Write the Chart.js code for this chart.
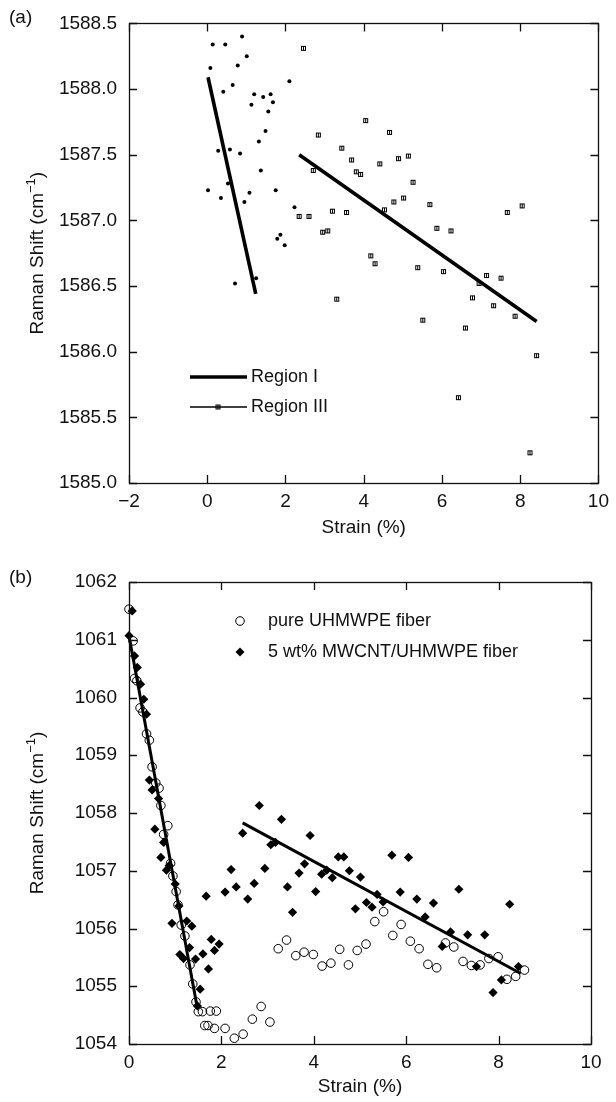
<!DOCTYPE html>
<html><head><meta charset="utf-8">
<script src="https://cdn.jsdelivr.net/npm/chart.js@4.4.1/dist/chart.umd.min.js"></script>
<style>
html,body{margin:0;padding:0;background:#fff;}
#wrap{position:relative;width:616px;height:1102px;background:#fff;}
canvas{position:absolute;left:0;}
</style>
</head><body>
<div id="wrap">
<canvas id="ca" width="616" height="545" style="top:0;width:616px;height:545px"></canvas>
<canvas id="cb" width="616" height="557" style="top:545px;width:616px;height:557px"></canvas>
</div>
<script>
// ---------- Panel (a) data ----------
const xTicksA = [-2, 0, 2, 4, 6, 8, 10];
const yTicksA = [1585.0, 1585.5, 1586.0, 1586.5, 1587.0, 1587.5, 1588.0, 1588.5];
const regionI_strain = [0.89,0.14,0.46,1.01,0.08,0.78,0.65,0.41,1.20,1.43,1.62,1.13,1.68,1.56,1.49,1.32,0.28,0.58,0.84,1.37,0.02,0.53,1.08,1.75,0.35,0.95,1.79,1.25,0.71,2.23,1.87,1.98,2.10];
const regionI_shift  = [1588.40,1588.34,1588.34,1588.25,1588.16,1588.18,1588.03,1587.98,1587.96,1587.94,1587.96,1587.88,1587.90,1587.83,1587.68,1587.60,1587.53,1587.54,1587.51,1587.38,1587.23,1587.28,1587.21,1587.23,1587.17,1587.14,1586.86,1586.56,1586.52,1587.10,1586.89,1586.81,1588.06];
const regionIII_strain = [4.05,2.84,4.66,3.44,3.69,4.89,5.14,4.41,2.71,3.81,3.92,5.26,4.77,5.02,5.69,4.53,3.20,3.56,2.35,2.60,2.95,3.08,5.87,6.23,4.18,4.29,5.38,6.04,3.31,6.78,7.14,7.51,6.95,7.32,7.87,5.51,6.60,8.42,6.42,8.25,2.46,7.67,8.05];
const regionIII_shift  = [1587.76,1587.65,1587.67,1587.55,1587.46,1587.47,1587.49,1587.43,1587.38,1587.37,1587.35,1587.29,1587.14,1587.17,1587.12,1587.08,1587.07,1587.06,1587.03,1587.03,1586.91,1586.92,1586.94,1586.92,1586.73,1586.67,1586.64,1586.61,1586.40,1586.41,1586.58,1586.56,1586.52,1586.35,1586.27,1586.24,1586.18,1585.97,1585.65,1585.23,1588.31,1587.06,1587.11];
const fitI_strain = [0.02, 1.24];
const fitI_shift  = [1588.09, 1586.44];
const fitIII_strain = [2.35, 8.42];
const fitIII_shift  = [1587.50, 1586.23];

// ---------- Panel (b) data ----------
const xTicksB = [0, 2, 4, 6, 8, 10];
const yTicksB = [1054, 1055, 1056, 1057, 1058, 1059, 1060, 1061, 1062];
const pure_strain = [0,0.09,0.12,0.17,0.24,0.30,0.38,0.44,0.50,0.58,0.65,0.69,0.84,0.75,0.90,0.95,1.02,1.06,1.13,1.21,1.32,1.38,1.45,1.50,1.59,1.76,1.89,1.64,1.71,1.85,2.08,2.28,2.47,2.67,2.86,3.05,3.23,3.41,3.61,3.79,3.99,4.18,4.37,4.56,4.75,4.94,5.13,5.32,5.51,5.71,5.89,6.09,6.28,6.47,6.66,6.85,7.03,7.23,7.41,7.60,7.79,7.99,8.18,8.37,8.56];
const pure_shift  = [1061.53,1060.98,1060.33,1060.29,1059.82,1059.75,1059.37,1059.26,1058.80,1058.52,1058.43,1058.13,1057.78,1057.63,1057.13,1056.91,1056.64,1056.41,1056.06,1055.87,1055.37,1055.04,1054.73,1054.56,1054.56,1054.57,1054.57,1054.32,1054.32,1054.27,1054.27,1054.10,1054.17,1054.43,1054.65,1054.38,1055.65,1055.80,1055.53,1055.59,1055.55,1055.35,1055.40,1055.64,1055.37,1055.62,1055.73,1056.12,1056.29,1055.88,1056.07,1055.78,1055.65,1055.38,1055.32,1055.75,1055.68,1055.43,1055.36,1055.37,1055.48,1055.51,1055.12,1055.17,1055.28];
const cnt_strain = [0.07,0,0.12,0.18,0.25,0.32,0.38,0.44,0.50,0.64,0.56,0.75,0.69,0.87,0.81,1.00,1.08,0.93,1.25,1.36,1.31,1.10,1.18,1.44,1.54,1.48,
  2.82,2.46,3.17,3.07,2.21,2.94,2.32,2.71,2.08,1.67,2.57,1.78,1.95,1.85,1.60,1.72,
  3.30,3.92,3.43,3.54,3.68,3.80,4.04,4.17,4.28,4.40,4.53,4.65,4.77,5.01,4.90,5.14,5.26,5.37,5.50,5.69,5.87,6.05,6.23,6.41,6.59,6.78,6.96,7.14,7.33,7.52,7.70,7.88,8.06,8.24,8.43];
const cnt_shift  = [1061.50,1061.07,1060.72,1060.52,1060.23,1059.97,1059.71,1058.57,1058.40,1058.25,1057.72,1057.49,1057.23,1057.09,1057.01,1056.77,1056.39,1056.09,1056.13,1056.04,1055.67,1055.55,1055.48,1055.47,1054.95,1054.66,
  1058.13,1057.65,1057.49,1057.45,1057.02,1057.04,1056.72,1056.78,1056.63,1056.56,1056.51,1055.81,1055.73,1055.62,1055.56,1055.30,
  1057.89,1057.61,1056.72,1056.28,1056.96,1057.12,1056.64,1056.94,1057.01,1056.88,1057.24,1057.24,1057.00,1056.89,1056.34,1056.45,1056.37,1056.59,1056.46,1057.27,1056.63,1057.23,1056.51,1056.20,1056.44,1055.69,1055.94,1056.68,1055.89,1055.34,1055.89,1054.89,1055.11,1056.42,1055.34];
const fitB1_strain = [0, 1.48];
const fitB1_shift  = [1061.07, 1054.62];
const fitB2_strain = [2.46, 8.48];
const fitB2_shift  = [1057.83, 1055.22];

// ---------- helpers ----------
const FONT = "'Liberation Sans', Arial, Helvetica, sans-serif";
const INK = '#111';
const pts = (xs, ys) => xs.map((x, i) => ({x: x, y: ys[i]}));
const fmtMinus = v => (v < 0 ? '\u2212' + Math.abs(v) : String(v));

// small boxed square marker for Region III
const sq = document.createElement('canvas');
sq.width = 7; sq.height = 7;
(function(){ const c = sq.getContext('2d'); c.strokeStyle = '#000'; c.lineWidth = 1;
  c.strokeRect(1.5, 1.5, 4, 4); c.fillStyle = '#000'; c.fillRect(3, 2, 1, 3); })();

const framePlugin = {
  id: 'framePlugin',
  afterDraw(chart, args, opts) {
    const ctx = chart.ctx;
    const {left, right, top, bottom} = chart.chartArea;
    const xs = chart.scales.x, ys = chart.scales.y;
    ctx.save();
    ctx.strokeStyle = INK; ctx.lineWidth = 1.3;
    ctx.strokeRect(Math.round(left) + 0.5, Math.round(top) + 0.5, Math.round(right - left), Math.round(bottom - top));
    ctx.beginPath();
    const L = 8;
    xs.ticks.forEach(t => { const p = Math.round(xs.getPixelForValue(t.value)) + 0.5;
      ctx.moveTo(p, bottom); ctx.lineTo(p, bottom - L); ctx.moveTo(p, top); ctx.lineTo(p, top + L); });
    ys.ticks.forEach(t => { const p = Math.round(ys.getPixelForValue(t.value)) + 0.5;
      ctx.moveTo(left, p); ctx.lineTo(left + L, p); ctx.moveTo(right, p); ctx.lineTo(right - L, p); });
    ctx.stroke();

    // panel label
    ctx.fillStyle = INK; ctx.textBaseline = 'middle'; ctx.textAlign = 'left';
    ctx.font = '19px ' + FONT;
    ctx.fillText(opts.panel, opts.panelX, opts.panelY);

    // x title
    ctx.textAlign = 'center';
    ctx.fillText('Strain (%)', (left + right) / 2, opts.xTitleY);

    // y title with superscript
    ctx.save();
    ctx.translate(opts.yTitleX, (top + bottom) / 2);
    ctx.rotate(-Math.PI / 2);
    ctx.textAlign = 'left';
    const main = 'Raman Shift (cm', sup = '\u22121', close = ')';
    ctx.font = '19px ' + FONT; const w1 = ctx.measureText(main).width, w3 = ctx.measureText(close).width;
    ctx.font = '13px ' + FONT; const w2 = ctx.measureText(sup).width;
    let x0 = -(w1 + w2 + w3) / 2;
    ctx.font = '19px ' + FONT; ctx.fillText(main, x0, 0);
    ctx.font = '13px ' + FONT; ctx.fillText(sup, x0 + w1, -7);
    ctx.font = '19px ' + FONT; ctx.fillText(close, x0 + w1 + w2, 0);
    ctx.restore();

    // legends
    ctx.font = '18px ' + FONT; ctx.textAlign = 'left'; ctx.textBaseline = 'middle';
    if (opts.legend === 'a') {
      ctx.strokeStyle = '#000';
      ctx.lineWidth = 3.5; ctx.beginPath(); ctx.moveTo(190, 377); ctx.lineTo(247, 377); ctx.stroke();
      ctx.fillText('Region I', 251, 377);
      ctx.lineWidth = 1.5; ctx.beginPath(); ctx.moveTo(190, 407); ctx.lineTo(247, 407); ctx.stroke();
      ctx.drawImage(sq, 218 - 3.5, 407 - 3.5);
      ctx.fillText('Region III', 251, 407);
    } else {
      ctx.strokeStyle = '#000'; ctx.lineWidth = 1;
      ctx.beginPath(); ctx.arc(240, 76, 4.3, 0, Math.PI * 2); ctx.stroke();
      ctx.fillText('pure UHMWPE fiber', 268, 76);
      ctx.fillStyle = '#000';
      ctx.beginPath(); ctx.moveTo(235.5, 107); ctx.lineTo(240, 102.5); ctx.lineTo(244.5, 107); ctx.lineTo(240, 111.5); ctx.closePath(); ctx.fill();
      ctx.fillStyle = INK;
      ctx.fillText('5 wt% MWCNT/UHMWPE fiber', 268, 107);
    }
    ctx.restore();
  }
};

function baseScales(xmin, xmax, xt, ymin, ymax, yt, yfmt, xh) {
  return {
    x: { type: 'linear', min: xmin, max: xmax,
      afterBuildTicks: s => { s.ticks = xt.map(v => ({value: v})); },
      ticks: { color: INK, font: {family: FONT, size: 19}, padding: 7, autoSkip: false, maxRotation: 0, callback: v => fmtMinus(v) },
      grid: { display: false, drawTicks: false }, border: { display: false },
      afterFit: s => { s.height = xh; } },
    y: { type: 'linear', min: ymin, max: ymax,
      afterBuildTicks: s => { s.ticks = yt.map(v => ({value: v})); },
      ticks: { color: INK, font: {family: FONT, size: 19}, padding: 12, autoSkip: false, callback: yfmt },
      grid: { display: false, drawTicks: false }, border: { display: false },
      afterFit: s => { s.width = 129; } }
  };
}

new Chart(document.getElementById('ca'), {
  type: 'scatter',
  data: { datasets: [
    { label: 'Region I fit', data: pts(fitI_strain, fitI_shift), showLine: true, borderColor: '#000', borderWidth: 3.6, pointRadius: 0, fill: false },
    { label: 'Region III fit', data: pts(fitIII_strain, fitIII_shift), showLine: true, borderColor: '#000', borderWidth: 3.6, pointRadius: 0, fill: false },
    { label: 'Region I', data: pts(regionI_strain, regionI_shift), pointStyle: 'circle', pointRadius: 2, backgroundColor: '#000', borderWidth: 0 },
    { label: 'Region III', data: pts(regionIII_strain, regionIII_shift), pointStyle: sq, pointRadius: 3 }
  ]},
  options: {
    responsive: false, animation: false, events: [],
    layout: { padding: { top: 21, right: 13, left: 0, bottom: 0 } },
    plugins: { legend: { display: false }, tooltip: { enabled: false },
      framePlugin: { panel: '(a)', panelX: 9, panelY: 18, xTitleY: 528, yTitleX: 38, legend: 'a' } },
    datasets: { scatter: { clip: false } },
    scales: baseScales(-2, 10, xTicksA, 1585, 1588.5, yTicksA, v => v.toFixed(1), 62)
  },
  plugins: [framePlugin]
});

new Chart(document.getElementById('cb'), {
  type: 'scatter',
  data: { datasets: [
    { label: 'fit I', data: pts(fitB1_strain, fitB1_shift), showLine: true, borderColor: '#000', borderWidth: 3, pointRadius: 0, fill: false },
    { label: 'fit III', data: pts(fitB2_strain, fitB2_shift), showLine: true, borderColor: '#000', borderWidth: 3, pointRadius: 0, fill: false },
    { label: '5 wt% MWCNT/UHMWPE fiber', data: pts(cnt_strain, cnt_shift), pointStyle: 'rectRot', pointRadius: 4.6, backgroundColor: '#000', borderColor: '#000', borderWidth: 0 },
    { label: 'pure UHMWPE fiber', data: pts(pure_strain, pure_shift), pointStyle: 'circle', pointRadius: 4.3, backgroundColor: 'rgba(0,0,0,0)', borderColor: '#000', borderWidth: 1 }
  ]},
  options: {
    responsive: false, animation: false, events: [],
    layout: { padding: { top: 37, right: 25, left: 0, bottom: 0 } },
    plugins: { legend: { display: false }, tooltip: { enabled: false },
      framePlugin: { panel: '(b)', panelX: 9, panelY: 33, xTitleY: 542, yTitleX: 38, legend: 'b' } },
    datasets: { scatter: { clip: false } },
    scales: baseScales(0, 10, xTicksB, 1054, 1062, yTicksB, v => String(v), 58)
  },
  plugins: [framePlugin]
});
</script>
</body></html>
